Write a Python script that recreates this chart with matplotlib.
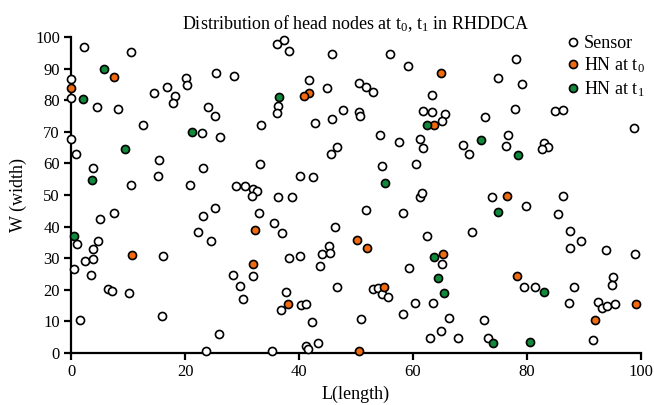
import matplotlib
matplotlib.use("Agg")
import matplotlib.pyplot as plt

plt.rcParams['font.family'] = ['Liberation Serif', 'DejaVu Serif']
plt.rcParams['mathtext.fontset'] = 'custom'
plt.rcParams['mathtext.rm'] = 'Liberation Serif'
plt.rcParams['mathtext.it'] = 'Liberation Serif:italic'
plt.rcParams['mathtext.bf'] = 'Liberation Serif:bold'

title = r"Distribution of head nodes at t$_{\mathrm{0}}$, t$_{\mathrm{1}}$ in RHDDCA"
xlabel = "L(length)"
ylabel = "W (width)"
labels = ["Sensor", r"HN at t$_{\mathrm{0}}$", r"HN at t$_{\mathrm{1}}$"]
xticks = [0, 20, 40, 60, 80, 100]
yticks = [0, 10, 20, 30, 40, 50, 60, 70, 80, 90, 100]

sensor_x = [2.3, 10.6, 0, 0, 4.5, 8.3, 14.6, 16.9, 18.3, 17.9, 20.2, 20.4, 25.4, 28.6, 24.0, 25.2, 12.6, 23.0, 26.1, 33.3,
            0, 0.8, 3.8, 15.4, 15.3, 10.5, 20.8, 23.1, 28.9, 30.6, 31.9, 32.6, 31.8, 33.2,
            36.2, 37.3, 38.2, 45.8, 55.9, 59.2, 41.7, 36.4, 36.2, 44.9, 50.6, 51.8, 52.9, 63.3, 61.8, 63.3, 65.7, 65.0,
            47.8, 50.5, 50.7, 45.8, 42.8, 54.2, 57.5, 61.2, 61.8, 46.7, 45.6, 54.6, 60.5, 40.1, 42.5, 36.3, 38.7, 61.2, 61.6,
            78.1, 74.9, 79.1, 77.9, 72.6, 84.9, 86.3, 98.7, 68.7, 69.8, 76.6, 76.4, 82.9, 83.7, 82.7, 73.8, 86.4,
            1.1, 5.0, 7.6, 4.7, 3.9, 2.5, 3.9, 0.5, 3.5, 16.1, 6.5, 7.2, 10.2, 1.6, 15.9, 23.7, 25.9, 25.3, 23.2, 22.2,
            24.6, 33.0, 32.0, 28.4, 29.6, 30.1,
            35.6, 37.0, 51.8, 58.3, 46.3, 62.5, 45.3, 44.0, 45.5, 43.7, 38.2, 40.1, 65.0, 59.3, 46.7, 53.0, 53.9, 54.6,
            55.7, 37.7, 36.9, 40.3, 41.2, 42.2, 60.3, 63.5, 58.2, 50.8, 66.3, 62.9, 64.9, 43.3, 41.2, 41.6, 35.3,
            79.9, 85.4, 70.4, 87.5, 89.5, 87.5, 93.9, 99.0, 79.5, 81.4, 88.3, 95.0, 94.9, 87.4, 92.5, 93.1, 94.0, 95.4,
            72.4, 67.9, 73.2, 91.5]
sensor_y = [96.9, 95.3, 86.8, 80.6, 77.7, 77.2, 82.3, 84.2, 81.2, 79.0, 87.0, 84.8, 88.7, 87.8, 78.0, 75.1, 72.0, 69.7, 68.2, 72.0,
            67.6, 63.1, 58.5, 61.1, 56.1, 53.2, 53.2, 58.4, 52.7, 53.0, 51.8, 51.3, 49.7, 59.8,
            97.8, 99.1, 95.7, 94.7, 94.7, 90.9, 86.4, 78.3, 76.1, 84.0, 85.4, 84.1, 82.7, 81.7, 76.7, 76.3, 75.6, 73.5,
            77.0, 76.3, 75.0, 74.2, 72.7, 68.9, 66.8, 67.8, 64.9, 65.2, 63.1, 59.1, 59.9, 55.9, 55.7, 49.5, 49.5, 49.5, 50.7,
            92.9, 87.0, 85.2, 77.3, 74.8, 76.5, 77.0, 71.1, 65.7, 63.0, 68.9, 65.4, 66.5, 65.3, 64.4, 49.5, 49.7,
            34.5, 42.4, 44.4, 35.5, 33.0, 29.2, 29.6, 26.5, 24.8, 30.8, 20.1, 19.6, 18.9, 10.3, 11.7, 0.7, 6.0, 45.9, 43.4, 38.3,
            35.5, 44.4, 24.4, 24.8, 21.3, 17.2,
            41.0, 38.1, 45.3, 44.3, 40.0, 37.1, 33.9, 31.2, 31.5, 27.4, 30.1, 30.7, 28.2, 26.9, 20.9, 20.3, 20.5, 18.7,
            17.8, 19.2, 13.6, 15.1, 15.4, 9.8, 15.8, 15.8, 12.2, 10.8, 11.1, 4.9, 6.9, 3.3, 2.1, 1.3, 0.6,
            46.5, 43.9, 38.4, 38.6, 35.5, 33.2, 32.5, 31.4, 20.8, 21.0, 20.8, 24.2, 21.6, 15.8, 16.1, 14.1, 14.9, 15.4,
            10.5, 4.9, 4.9, 4.0]

hn0_x = [0, 7.6, 64.9, 41.8, 40.9, 63.6, 76.5, 10.7, 32.3, 32.0, 50.1, 51.9, 65.2, 54.9, 38.1, 50.6, 78.3, 99.1, 91.9]
hn0_y = [84.0, 87.2, 88.7, 82.4, 81.3, 72.3, 49.8, 30.9, 38.8, 28.2, 35.9, 33.3, 31.3, 21.0, 15.4, 0.5, 24.5, 15.4, 10.4]

hn1_x = [5.8, 2.1, 9.5, 21.3, 3.6, 36.5, 62.5, 55.1, 71.9, 78.5, 74.9, 0.5, 63.7, 64.3, 65.5, 83.0, 74.0, 80.5]
hn1_y = [90.0, 80.5, 64.6, 70.0, 54.6, 81.0, 72.3, 53.9, 67.5, 62.7, 44.7, 37.1, 30.5, 23.6, 19.1, 19.2, 3.2, 3.4]

fig = plt.figure(figsize=(6.54, 4.05), dpi=100)
ax = fig.add_axes([71/654, 1 - 353/405, 570/654, 316/405])

mk = dict(ls='none', marker='o', ms=5.8, mew=1.2, mec='black', clip_on=False, zorder=3)
ax.plot(sensor_x, sensor_y, mfc='white', label=labels[0], **mk)
ax.plot(hn0_x, hn0_y, mfc='#F26A0E', label=labels[1], **mk)
ax.plot(hn1_x, hn1_y, mfc='#10893A', label=labels[2], **mk)

ax.set_xlim(0, 100)
ax.set_ylim(0, 100)
ax.set_xticks(xticks)
ax.set_yticks(yticks)
for s in ['top', 'right']:
    ax.spines[s].set_visible(False)
for s in ['left', 'bottom']:
    ax.spines[s].set_linewidth(1.6)
ax.tick_params(direction='out', length=5, width=1.6, labelsize=12, pad=3)

ax.set_title(title, fontsize=13, pad=6)
ax.set_xlabel(xlabel, fontsize=13, labelpad=4)
ax.set_ylabel(ylabel, fontsize=13, labelpad=6)

fig.legend(loc='upper left', bbox_to_anchor=(566/654, 1 - 35/405), frameon=False,
           fontsize=13, borderpad=0, borderaxespad=0, handlelength=0.8,
           handletextpad=0.2, labelspacing=0.2)

fig.savefig('out.png', dpi=100)
